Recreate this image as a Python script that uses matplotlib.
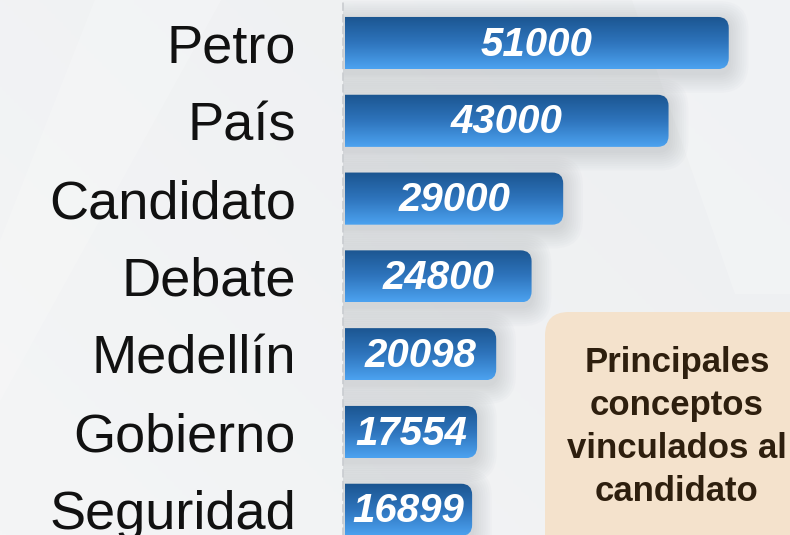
import numpy as np
import matplotlib
matplotlib.use("Agg")
import matplotlib.pyplot as plt
from matplotlib.patches import FancyBboxPatch, Polygon
from matplotlib.colors import LinearSegmentedColormap

# data
conceptos = ["Petro", "País", "Candidato", "Debate", "Medellín", "Gobierno", "Seguridad"]
menciones = [51000, 43000, 29000, 24800, 20098, 17554, 16899]
nota = "Principales\nconceptos\nvinculados al\ncandidato"

plt.rcParams["font.family"] = ["Liberation Sans", "DejaVu Sans"]

W, H = 790, 535
fig = plt.figure(figsize=(W / 100, H / 100), dpi=100)
fig.patch.set_facecolor("#EEF0F2")

# soft background with light diagonal bands
bg = fig.add_axes([0, 0, 1, 1], zorder=-5)
gx, gy = np.meshgrid(np.linspace(0, 1, 200), np.linspace(0, 1, 200))
grad = 0.6 * gx + 0.4 * (1 - gy)
bg.imshow(grad, cmap=LinearSegmentedColormap.from_list("bg", ["#F4F5F6", "#EDEFF1"]),
          extent=[0, 1, 0, 1], aspect="auto", origin="upper")
bg.add_patch(Polygon([[0.80, 1.0], [1.0, 1.0], [1.0, 0.45], [0.93, 0.45]], closed=True,
                     fc="white", alpha=0.22, lw=0))
bg.add_patch(Polygon([[0.0, 0.55], [0.12, 1.0], [0.28, 1.0], [0.0, 0.25]], closed=True,
                     fc="white", alpha=0.18, lw=0))
bg.set_xlim(0, 1)
bg.set_ylim(0, 1)
bg.axis("off")

x0 = 343 / W
ax = fig.add_axes([x0, 0, 1 - x0, 1])
ax.patch.set_alpha(0)
xmax = 59400
ylo, yhi = 6.324, -0.553
x_start = 260   # bars begin just right of the dashed line
ax.set_xlim(0, xmax)
ax.set_ylim(ylo, yhi)

pxx = (W - 343) / xmax          # pixels per x unit
pxy = H / (ylo - yhi)           # pixels per y unit
m_asp = pxx / pxy

bar_h = 0.67
bars = ax.barh(range(len(conceptos)), menciones, height=bar_h, left=x_start,
               color="none", edgecolor="none")

cmap_bar = LinearSegmentedColormap.from_list("bar", ["#1B5590", "#2E74BC", "#4CA2F0"])
r_px = 11
for i, (b, v) in enumerate(zip(bars, menciones)):
    yc = i
    top = yc - bar_h / 2
    right = x_start + v
    # shadow
    for k in range(1, 10):
        pad = k * 2.2 / pxx
        sh = FancyBboxPatch((-4000, top + 4 / pxy), right + 4000, bar_h,
                            boxstyle="round,pad=%f,rounding_size=%f" % (pad, (r_px + k * 2) / pxx),
                            mutation_aspect=m_asp, fc="#8A9099", ec="none", alpha=0.03,
                            transform=ax.transData, zorder=1)
        ax.add_patch(sh)
    clip = FancyBboxPatch((-4000, top), right + 4000, bar_h,
                          boxstyle="round,pad=0,rounding_size=%f" % (r_px / pxx),
                          mutation_aspect=m_asp, fc="none", ec="none",
                          transform=ax.transData)
    ax.add_patch(clip)
    im = ax.imshow(np.linspace(0, 1, 100).reshape(-1, 1), cmap=cmap_bar,
                   extent=[x_start, right, yc + bar_h / 2, top], aspect="auto",
                   origin="upper", zorder=2)
    im.set_clip_path(clip)
    ax.text(x_start + v / 2, yc + 0.02, str(v), ha="center", va="center", color="white",
            fontsize=29, fontweight="bold", fontstyle="italic", zorder=3)

ax.set_xlim(0, xmax)
ax.set_ylim(ylo, yhi)
ax.set_yticks(range(len(conceptos)))
ax.set_yticklabels(conceptos, fontsize=39, color="#111111")
ax.tick_params(axis="y", length=0, pad=34)
ax.set_xticks([])
for s in ["top", "right", "bottom"]:
    ax.spines[s].set_visible(False)
ax.spines["left"].set_linestyle((0, (4, 3)))
ax.spines["left"].set_color("#C9CCD0")
ax.spines["left"].set_linewidth(1.2)

# note box
box = FancyBboxPatch((545 / W, -0.1), 0.4, (H - 312) / H + 0.1,
                     boxstyle="round,pad=0,rounding_size=0.03",
                     mutation_aspect=W / H, transform=fig.transFigure,
                     fc="#F4E2CC", ec="none", zorder=4)
fig.patches.append(box)
fig.text(677 / W, (H - 427) / H, nota, ha="center", va="center", fontsize=25,
         fontweight="bold", color="#2E1F0E", linespacing=1.38, zorder=5)

fig.savefig("out.png", dpi=100, facecolor=fig.get_facecolor())
